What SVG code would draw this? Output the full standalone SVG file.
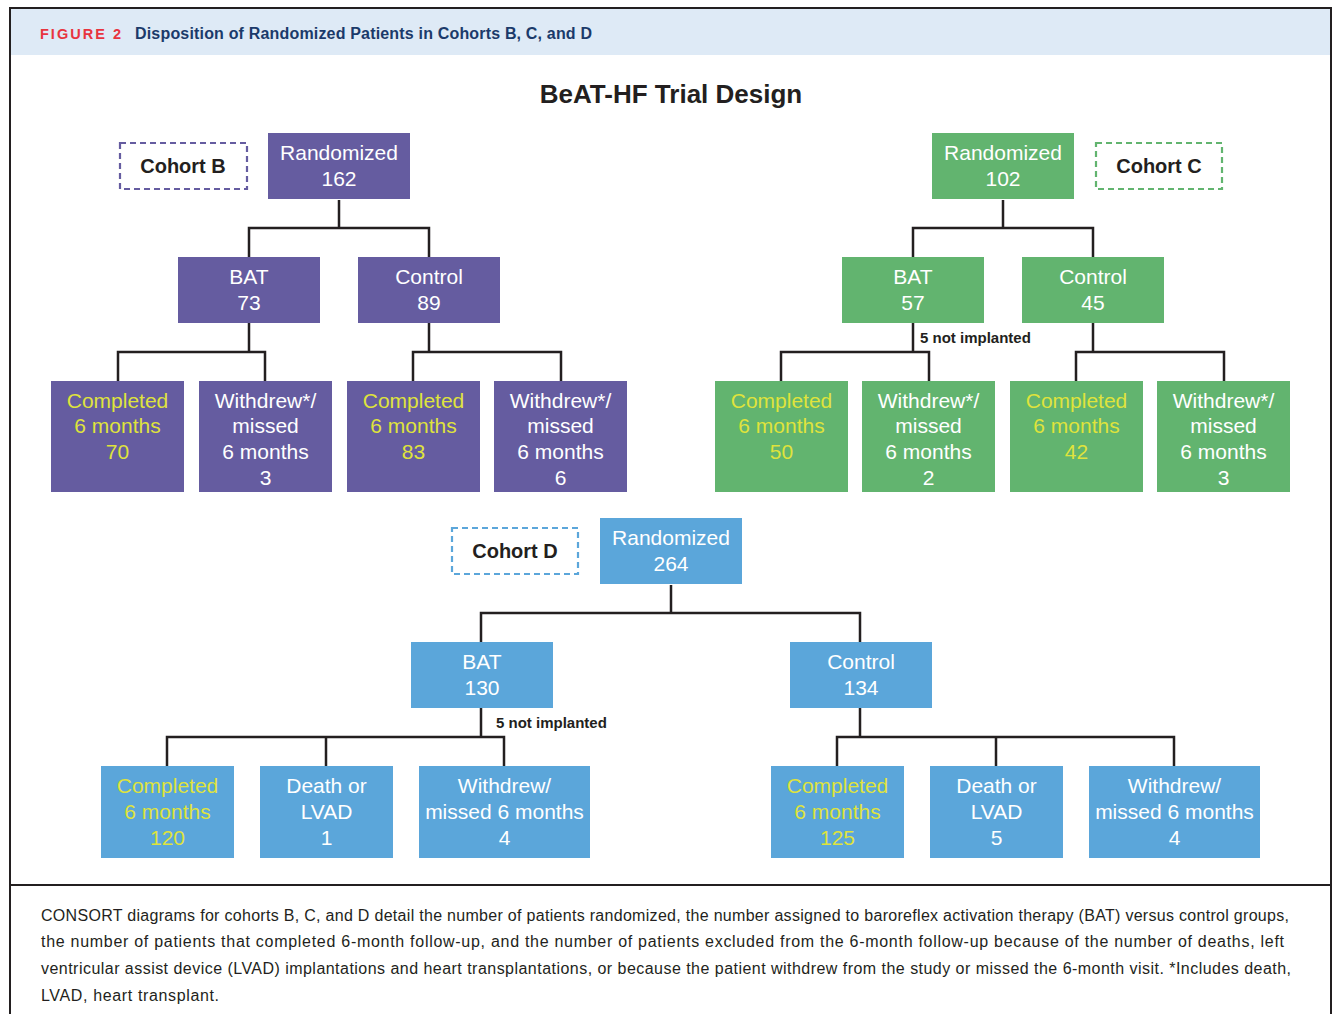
<svg xmlns="http://www.w3.org/2000/svg" width="1335" height="1014" viewBox="0 0 1335 1014">
<style>
.t{font-family:"Liberation Sans",Arial,sans-serif;font-size:21px;fill:#ffffff;text-anchor:middle}
.y{fill:#dfe33c}
.pB{fill:#655ca0}
.pC{fill:#62b46f}
.pD{fill:#5ba6da}
.lbl{font-family:"Liberation Sans",Arial,sans-serif;font-size:20px;font-weight:bold;fill:#231f20;text-anchor:middle}
.dash{fill:#ffffff;stroke-width:2.2;stroke-dasharray:6 4}
.conn path{fill:none;stroke:#231f20;stroke-width:2.5}
.ni{font-family:"Liberation Sans",Arial,sans-serif;font-size:15px;font-weight:bold;fill:#231f20}
.cap{font-family:"Liberation Sans",Arial,sans-serif;font-size:16px;fill:#231f20}
</style>
<rect x="0" y="0" width="1335" height="1014" fill="#ffffff"/>
<rect x="10" y="9" width="1321" height="46" fill="#deeaf6"/>
<path d="M10 1014 V8 H1331 V1014" fill="none" stroke="#231f20" stroke-width="2"/>
<line x1="10" y1="885" x2="1331" y2="885" stroke="#231f20" stroke-width="2"/>
<text x="40" y="39" font-family="'Liberation Sans',Arial,sans-serif" font-size="14.5" font-weight="bold" fill="#e8343f" textLength="81" lengthAdjust="spacing">FIGURE 2</text>
<text x="135" y="39" font-family="'Liberation Sans',Arial,sans-serif" font-size="16" font-weight="bold" fill="#1b3a6a" textLength="457" lengthAdjust="spacing">Disposition of Randomized Patients in Cohorts B, C, and D</text>
<text x="671" y="103" font-family="'Liberation Sans',Arial,sans-serif" font-size="26" font-weight="bold" fill="#231f20" text-anchor="middle">BeAT-HF Trial Design</text>

<g id="connectors" class="conn">
<path d="M339 200 V228 M249 258 V228 H429 V258"/>
<path d="M249 323 V352 M118 381 V352 H265 V381"/>
<path d="M429 323 V352 M413 381 V352 H561 V381"/>
<path d="M1003 200 V228 M913 258 V228 H1093 V258"/>
<path d="M913 323 V352 M781 381 V352 H929 V381"/>
<path d="M1093 323 V352 M1076 381 V352 H1224 V381"/>
<path d="M671 585 V613 M481 642 V613 H860 V642"/>
<path d="M481 708 V737 M167 766 V737 H504 V766 M326 737 V766"/>
<path d="M860 708 V737 M837 766 V737 H1174 V766 M996 737 V766"/>
</g>
<text class="ni" x="920" y="343">5 not implanted</text>
<text class="ni" x="496" y="728">5 not implanted</text>

<!-- Cohort B -->
<g id="cohortB-label"><rect class="dash" x="120" y="143" width="127" height="46" stroke="#655ca0"/><text class="lbl" x="183" y="173">Cohort B</text></g>
<g id="B-rand"><rect class="pB" x="268" y="133" width="142" height="66"/><text class="t" x="339" y="160">Randomized</text><text class="t" x="339" y="186">162</text></g>
<g id="B-bat"><rect class="pB" x="178" y="257" width="142" height="66"/><text class="t" x="249" y="284">BAT</text><text class="t" x="249" y="310">73</text></g>
<g id="B-ctrl"><rect class="pB" x="358" y="257" width="142" height="66"/><text class="t" x="429" y="284">Control</text><text class="t" x="429" y="310">89</text></g>
<g id="B-bat-comp"><rect class="pB" x="51" y="381" width="133" height="111"/><text class="t y" x="117.5" y="408">Completed</text><text class="t y" x="117.5" y="433">6 months</text><text class="t y" x="117.5" y="459">70</text></g>
<g id="B-bat-wd"><rect class="pB" x="199" y="381" width="133" height="111"/><text class="t" x="265.5" y="408">Withdrew*/</text><text class="t" x="265.5" y="433">missed</text><text class="t" x="265.5" y="459">6 months</text><text class="t" x="265.5" y="485">3</text></g>
<g id="B-ctrl-comp"><rect class="pB" x="347" y="381" width="133" height="111"/><text class="t y" x="413.5" y="408">Completed</text><text class="t y" x="413.5" y="433">6 months</text><text class="t y" x="413.5" y="459">83</text></g>
<g id="B-ctrl-wd"><rect class="pB" x="494" y="381" width="133" height="111"/><text class="t" x="560.5" y="408">Withdrew*/</text><text class="t" x="560.5" y="433">missed</text><text class="t" x="560.5" y="459">6 months</text><text class="t" x="560.5" y="485">6</text></g>

<!-- Cohort C -->
<g id="cohortC-label"><rect class="dash" x="1096" y="143" width="126" height="46" stroke="#62b46f"/><text class="lbl" x="1159" y="173">Cohort C</text></g>
<g id="C-rand"><rect class="pC" x="932" y="133" width="142" height="66"/><text class="t" x="1003" y="160">Randomized</text><text class="t" x="1003" y="186">102</text></g>
<g id="C-bat"><rect class="pC" x="842" y="257" width="142" height="66"/><text class="t" x="913" y="284">BAT</text><text class="t" x="913" y="310">57</text></g>
<g id="C-ctrl"><rect class="pC" x="1022" y="257" width="142" height="66"/><text class="t" x="1093" y="284">Control</text><text class="t" x="1093" y="310">45</text></g>
<g id="C-bat-comp"><rect class="pC" x="715" y="381" width="133" height="111"/><text class="t y" x="781.5" y="408">Completed</text><text class="t y" x="781.5" y="433">6 months</text><text class="t y" x="781.5" y="459">50</text></g>
<g id="C-bat-wd"><rect class="pC" x="862" y="381" width="133" height="111"/><text class="t" x="928.5" y="408">Withdrew*/</text><text class="t" x="928.5" y="433">missed</text><text class="t" x="928.5" y="459">6 months</text><text class="t" x="928.5" y="485">2</text></g>
<g id="C-ctrl-comp"><rect class="pC" x="1010" y="381" width="133" height="111"/><text class="t y" x="1076.5" y="408">Completed</text><text class="t y" x="1076.5" y="433">6 months</text><text class="t y" x="1076.5" y="459">42</text></g>
<g id="C-ctrl-wd"><rect class="pC" x="1157" y="381" width="133" height="111"/><text class="t" x="1223.5" y="408">Withdrew*/</text><text class="t" x="1223.5" y="433">missed</text><text class="t" x="1223.5" y="459">6 months</text><text class="t" x="1223.5" y="485">3</text></g>

<!-- Cohort D -->
<g id="cohortD-label"><rect class="dash" x="452" y="528" width="126" height="46" stroke="#5ba6da"/><text class="lbl" x="515" y="558">Cohort D</text></g>
<g id="D-rand"><rect class="pD" x="600" y="518" width="142" height="66"/><text class="t" x="671" y="545">Randomized</text><text class="t" x="671" y="571">264</text></g>
<g id="D-bat"><rect class="pD" x="411" y="642" width="142" height="66"/><text class="t" x="482" y="669">BAT</text><text class="t" x="482" y="695">130</text></g>
<g id="D-ctrl"><rect class="pD" x="790" y="642" width="142" height="66"/><text class="t" x="861" y="669">Control</text><text class="t" x="861" y="695">134</text></g>
<g id="D-bat-comp"><rect class="pD" x="101" y="766" width="133" height="92"/><text class="t y" x="167.5" y="793">Completed</text><text class="t y" x="167.5" y="819">6 months</text><text class="t y" x="167.5" y="845">120</text></g>
<g id="D-bat-death"><rect class="pD" x="260" y="766" width="133" height="92"/><text class="t" x="326.5" y="793">Death or</text><text class="t" x="326.5" y="819">LVAD</text><text class="t" x="326.5" y="845">1</text></g>
<g id="D-bat-wd"><rect class="pD" x="419" y="766" width="171" height="92"/><text class="t" x="504.5" y="793">Withdrew/</text><text class="t" x="504.5" y="819">missed 6 months</text><text class="t" x="504.5" y="845">4</text></g>
<g id="D-ctrl-comp"><rect class="pD" x="771" y="766" width="133" height="92"/><text class="t y" x="837.5" y="793">Completed</text><text class="t y" x="837.5" y="819">6 months</text><text class="t y" x="837.5" y="845">125</text></g>
<g id="D-ctrl-death"><rect class="pD" x="930" y="766" width="133" height="92"/><text class="t" x="996.5" y="793">Death or</text><text class="t" x="996.5" y="819">LVAD</text><text class="t" x="996.5" y="845">5</text></g>
<g id="D-ctrl-wd"><rect class="pD" x="1089" y="766" width="171" height="92"/><text class="t" x="1174.5" y="793">Withdrew/</text><text class="t" x="1174.5" y="819">missed 6 months</text><text class="t" x="1174.5" y="845">4</text></g>

<g id="caption">
<text class="cap" x="41" y="921" textLength="1248" lengthAdjust="spacing">CONSORT diagrams for cohorts B, C, and D detail the number of patients randomized, the number assigned to baroreflex activation therapy (BAT) versus control groups,</text>
<text class="cap" x="41" y="947" textLength="1243" lengthAdjust="spacing">the number of patients that completed 6-month follow-up, and the number of patients excluded from the 6-month follow-up because of the number of deaths, left</text>
<text class="cap" x="41" y="974" textLength="1250" lengthAdjust="spacing">ventricular assist device (LVAD) implantations and heart transplantations, or because the patient withdrew from the study or missed the 6-month visit. *Includes death,</text>
<text class="cap" x="41" y="1001" textLength="178" lengthAdjust="spacing">LVAD, heart transplant.</text>
</g>
</svg>
